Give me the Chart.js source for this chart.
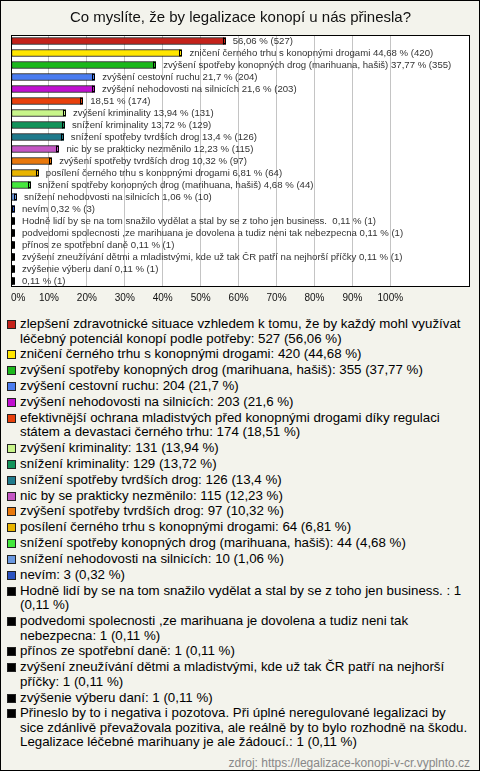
<!DOCTYPE html>
<html>
<head>
<meta charset="utf-8">
<script src="https://cdn.jsdelivr.net/npm/chart.js@4.4.0/dist/chart.umd.min.js"></script>
<style>
  html, body { margin: 0; padding: 0; background: #fff; }
  #frame {
    position: relative;
    width: 480px; height: 771px;
    box-sizing: border-box;
    border: 1px solid #000;
    background: #f3f3ec;
    font-family: "Liberation Sans", Arial, sans-serif;
    overflow: hidden;
  }
  #chart-box { position: absolute; left: 0; top: 0; width: 478px; height: 310px; }
  #legend { position: absolute; left: 6px; top: 316px; width: 464px; }
  .item { display: flex; align-items: flex-start; font-size: 13.3px; line-height: 14.5px; margin-bottom: 1.35px; color: #000; }
  .item .box { flex: 0 0 auto; width: 7px; height: 7px; border: 1px solid #222; margin: 3px 4px 0 0; }
  #source { position: absolute; right: 9px; top: 755px; font-size: 12px; color: #888; }
</style>
</head>
<body>
<div id="frame">
  <div id="chart-box"><canvas id="chart"></canvas></div>
  <div id="legend"></div>
  <div id="source">zdroj: https://legalizace-konopi-v-cr.vyplnto.cz</div>
</div>
<script>
// --- Dados ---
const categories = [
    'zlepšení zdravotnické situace vzhledem k tomu, že by každý mohl využívat léčebný potenciál konopí podle potřeby',
    'zničení černého trhu s konopnými drogami',
    'zvýšení spotřeby konopných drog (marihuana, hašiš)',
    'zvýšení cestovní ruchu',
    'zvýšení nehodovosti na silnicích',
    'efektivnější ochrana mladistvých před konopnými drogami díky regulaci státem a devastaci černého trhu',
    'zvýšení kriminality',
    'snížení kriminality',
    'snížení spotřeby tvrdších drog',
    'nic by se prakticky nezměnilo',
    'zvýšení spotřeby tvrdších drog',
    'posílení černého trhu s konopnými drogami',
    'snížení spotřeby konopných drog (marihuana, hašiš)',
    'snížení nehodovosti na silnicích',
    'nevím',
    'Hodně lidí by se na tom snažilo vydělat a stal by se z toho jen business. ',
    'podvedomi spolecnosti ,ze marihuana je dovolena a tudiz neni tak nebezpecna',
    'přínos ze spotřební daně',
    'zvýšení zneužívání dětmi a mladistvými, kde už tak ČR patří na nejhorší příčky',
    'zvýšenie výberu daní',
    'Přineslo by to i negativa i pozotova. Při úplné neregulované legalizaci by sice zdánlivě převažovala pozitiva, ale reálně by to bylo rozhodně na škodu. Legalizace léčebné marihuany je ale žádoucí.'
];
// textos curtos mostrados ao lado das barras ('' = só o valor)
const barNames = [
    '', 'zničení černého trhu s konopnými drogami', 'zvýšení spotřeby konopných drog (marihuana, hašiš)',
    'zvýšení cestovní ruchu', 'zvýšení nehodovosti na silnicích', '',
    'zvýšení kriminality', 'snížení kriminality', 'snížení spotřeby tvrdších drog',
    'nic by se prakticky nezměnilo', 'zvýšení spotřeby tvrdších drog', 'posílení černého trhu s konopnými drogami',
    'snížení spotřeby konopných drog (marihuana, hašiš)', 'snížení nehodovosti na silnicích', 'nevím',
    'Hodně lidí by se na tom snažilo vydělat a stal by se z toho jen business. ',
    'podvedomi spolecnosti ,ze marihuana je dovolena a tudiz neni tak nebezpecna',
    'přínos ze spotřební daně',
    'zvýšení zneužívání dětmi a mladistvými, kde už tak ČR patří na nejhorší příčky',
    'zvýšenie výberu daní', ''
];
const counts = [527, 420, 355, 204, 203, 174, 131, 129, 126, 115, 97, 64, 44, 10, 3, 1, 1, 1, 1, 1, 1];
const percents = [56.06, 44.68, 37.77, 21.7, 21.6, 18.51, 13.94, 13.72, 13.4, 12.23, 10.32, 6.81, 4.68, 1.06, 0.32, 0.11, 0.11, 0.11, 0.11, 0.11, 0.11];
const colors = [
    '#c4221a', '#ffe600', '#1cb81c', '#4a7cf0', '#c010d0', '#e8400c', '#c8f58a',
    '#12935a', '#1f7a8c', '#c456c4', '#e8780c', '#e8b400', '#44e83c', '#6a98e0',
    '#2a52c0', '#000000', '#000000', '#000000', '#000000', '#000000', '#000000'
];
const xTicks = [0, 10, 20, 30, 40, 50, 60, 70, 80, 90, 100];

const fmtPct = v => String(v).replace('.', ',');

// --- Plugins ---
const plotFrame = {
    id: 'plotFrame',
    beforeDraw(chart) {
        const { ctx, chartArea: a } = chart;
        ctx.save();
        ctx.fillStyle = '#ffffff';
        ctx.fillRect(a.left, a.top, a.right - a.left, a.bottom - a.top);
        ctx.restore();
    },
    afterDatasetsDraw(chart) {
        const { ctx, chartArea: a } = chart;
        ctx.save();
        ctx.strokeStyle = '#000';
        ctx.lineWidth = 1;
        ctx.strokeRect(Math.round(a.left) + 0.5, Math.round(a.top) + 0.5,
            Math.round(a.right - a.left) - 1, Math.round(a.bottom - a.top) - 1);
        ctx.restore();
    }
};

// "tampa" 3D no fim de cada barra + rótulo de texto
const barLabels = {
    id: 'barLabels',
    afterDatasetsDraw(chart) {
        const { ctx } = chart;
        const meta = chart.getDatasetMeta(0);
        ctx.save();
        meta.data.forEach((bar, i) => {
            const h = bar.height;
            const x = Math.round(bar.x);
            ctx.fillStyle = colors[i];
            ctx.strokeStyle = '#000';
            ctx.lineWidth = 1;
            ctx.fillRect(x - 1, bar.y - h / 2, 3, h);
            ctx.strokeRect(x - 0.5, bar.y - h / 2 + 0.5, 2, h - 1);
        });
        ctx.font = '9.6px "Liberation Sans", Arial, sans-serif';
        ctx.fillStyle = '#333';
        ctx.textBaseline = 'middle';
        meta.data.forEach((bar, i) => {
            const name = barNames[i] ? barNames[i] + ' ' : '';
            const text = name + fmtPct(percents[i]) + ' % (' + counts[i] + ')';
            ctx.fillText(text, bar.x + 9, bar.y + 0.5);
        });
        ctx.restore();
    }
};

// --- Gráfico ---
const chart = new Chart(document.getElementById('chart'), {
    type: 'bar',
    data: {
        labels: categories,
        datasets: [{
            data: percents,
            backgroundColor: colors,
            borderColor: '#000',
            borderWidth: 1,
            borderSkipped: false,
            barThickness: 7,
            minBarLength: 2
        }]
    },
    options: {
        indexAxis: 'y',
        responsive: true,
        maintainAspectRatio: false,
        animation: false,
        layout: { padding: { left: 10, right: 9, top: 0, bottom: 2 } },
        plugins: {
            legend: { display: false },
            tooltip: { enabled: false },
            title: {
                display: true,
                text: 'Co myslíte, že by legalizace konopí u nás přinesla?',
                color: '#111',
                font: { family: '"Liberation Sans", Arial, sans-serif', size: 15, weight: 'normal' },
                padding: { top: 8, bottom: 8 }
            }
        },
        scales: {
            x: {
                min: 0,
                max: 121,
                afterBuildTicks: scale => {
                    scale.ticks = xTicks.concat([120]).map(v => ({ value: v }));
                },
                ticks: {
                    align: 'inner',
                    autoSkip: false,
                    maxRotation: 0,
                    padding: 5,
                    color: '#111',
                    font: { family: '"Liberation Sans", Arial, sans-serif', size: 10 },
                    callback: v => (v <= 100 ? v + '%' : '')
                },
                grid: {
                    drawTicks: false,
                    tickLength: 0,
                    color: c => (c.tick && c.tick.value > 0 && c.tick.value <= 100 ? '#c4c4c4' : 'rgba(0,0,0,0)')
                },
                border: { display: false }
            },
            y: { display: false }
        }
    },
    plugins: [plotFrame, barLabels]
});

// --- Legenda ---
const legend = document.getElementById('legend');
categories.forEach((name, i) => {
    const item = document.createElement('div');
    item.className = 'item';
    const box = document.createElement('span');
    box.className = 'box';
    box.style.background = colors[i];
    const txt = document.createElement('span');
    txt.textContent = name + ': ' + counts[i] + ' (' + fmtPct(percents[i]) + ' %)';
    item.appendChild(box);
    item.appendChild(txt);
    legend.appendChild(item);
});
</script>
</body>
</html>
